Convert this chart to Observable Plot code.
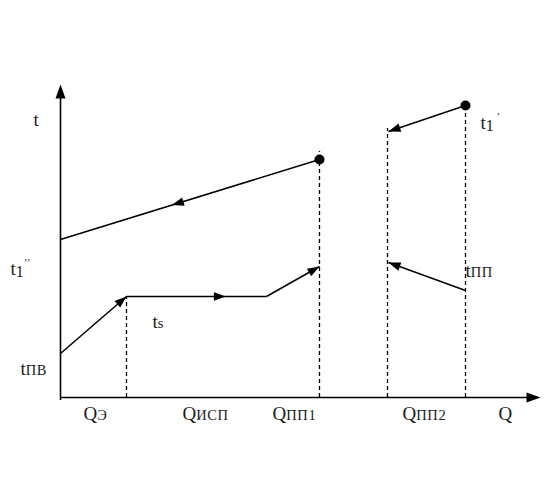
<!DOCTYPE html>
<html><head><meta charset="utf-8">
<script src="https://cdn.jsdelivr.net/npm/d3@7"></script>
<script src="https://cdn.jsdelivr.net/npm/@observablehq/plot@0.6"></script>
<style>body{margin:0;background:#fff}</style>
</head><body><div id="chart"></div>
<script>
// Chart units: Q along x, t along y, origin at the axes' crossing.
// Solid process lines (from -> to, in flow direction)
const segFromQ = [259, 0, 66, 206, 405, 405];
const segFromT = [238, 44, 101, 101, 292, 107];
const segToQ   = [0, 66, 206, 259, 328, 328];
const segToT   = [158, 101, 101, 131, 266, 135];
// arrowheads: which segment, and where along it (fraction)
const arrowSeg = [0, 1, 2, 3, 4, 5];
const arrowAt  = [0.57, 1, 0.71, 1, 1, 1];
// dashed verticals
const dashQ   = [66, 259, 327, 405];
const dashTop = [101, 246, 269, 292];
// state points
const dotQ = [259, 405];
const dotT = [238, 292];
// axes
const axisQmax = 480, axisTmax = 313;
// labels
const labelBase = ["t", "t", "t", "t", "Q", "Q", "Q", "Q", "Q", "t", "t"];
const labelSub  = ["", "1", "ПВ", "s", "Э", "ИСП", "ПП1", "ПП2", "", "ПП", "1"];
const labelSup  = ["", "’’", "", "", "", "", "", "", "", "", " ’"];
const labelQ    = [-27, -50, -40, 92, 23, 122, 212, 342, 438, 405, 420];
const labelT    = [278, 129, 29, 76, -16, -16, -16, -16, -16, 127, 275];

const segs = segFromQ.map((q, i) => ({x1: q, y1: segFromT[i], x2: segToQ[i], y2: segToT[i]}));
const heads = arrowSeg.map((s, i) => {
  const g = segs[s], f = arrowAt[i];
  return {x: g.x1 + (g.x2 - g.x1) * f, y: g.y1 + (g.y2 - g.y1) * f,
          a: Math.atan2(g.x2 - g.x1, g.y2 - g.y1) * 180 / Math.PI};
});
const axisHeads = [{x: 0, y: axisTmax, a: 0}, {x: axisQmax, y: 0, a: 90}];
const dashes = dashQ.map((q, i) => ({x: q, top: dashTop[i]}));
const dots = dotQ.map((q, i) => ({x: q, y: dotT[i]}));
const labels = labelBase.map((b, i) => ({b, x: labelQ[i], y: labelT[i]}));

// filled arrowhead with tip at the anchor point, pointing up before rotation
const head = {draw(ctx, size) {
  const r = Math.sqrt(size / Math.PI), L = 2.8 * r, W = 2 * r;
  ctx.moveTo(0, 0); ctx.lineTo(W / 2, L); ctx.lineTo(-W / 2, L); ctx.closePath();
}};

const chart = Plot.plot({
  width: 560, height: 490,
  marginLeft: 60, marginRight: 20, marginTop: 84, marginBottom: 93,
  x: {domain: [0, axisQmax], axis: null},
  y: {domain: [0, axisTmax], axis: null},
  style: {background: "white", fontFamily: "Liberation Serif", fontSize: "19px"},
  marks: [
    Plot.ruleX([0], {y1: -3, y2: axisTmax - 8, stroke: "black", strokeWidth: 1.6}),
    Plot.ruleY([0], {x1: 0, x2: axisQmax - 8, stroke: "black", strokeWidth: 1.6}),
    Plot.ruleX(dashes, {x: "x", y1: 0, y2: "top", stroke: "black", strokeWidth: 1.3, strokeDasharray: "4,3"}),
    Plot.link(segs, {x1: "x1", y1: "y1", x2: "x2", y2: "y2", stroke: "black", strokeWidth: 1.5}),
    Plot.dot(heads, {x: "x", y: "y", rotate: "a", symbol: head, r: 4.3, fill: "black", stroke: "none"}),
    Plot.dot(axisHeads, {x: "x", y: "y", rotate: "a", symbol: head, r: 5, fill: "black", stroke: "none"}),
    Plot.dot(dots, {x: "x", y: "y", r: 5, fill: "black", stroke: "none"}),
    Plot.text(labels, {x: "x", y: "y", text: "b", textAnchor: "start", fill: "#1a1a1a"})
  ]
});

d3.select(chart).selectAll('g[aria-label="text"] text').each(function(_, j) {
  const t = d3.select(this);
  t.attr("dy", null).text(null);
  t.append("tspan").text(labelBase[j]);
  if (labelSub[j]) {
    const isNum = labelSub[j] === "1";
    t.append("tspan").attr("font-size", isNum ? 16 : 14.5).attr("dy", isNum ? 2 : 0)
      .attr("letter-spacing", isNum ? 0 : 0.6).text(labelSub[j]);
  }
  if (labelSup[j]) {
    t.append("tspan").attr("font-size", 11).attr("dy", -11).text(labelSup[j]);
  }
});

document.getElementById("chart").appendChild(chart);
</script>
</body></html>
